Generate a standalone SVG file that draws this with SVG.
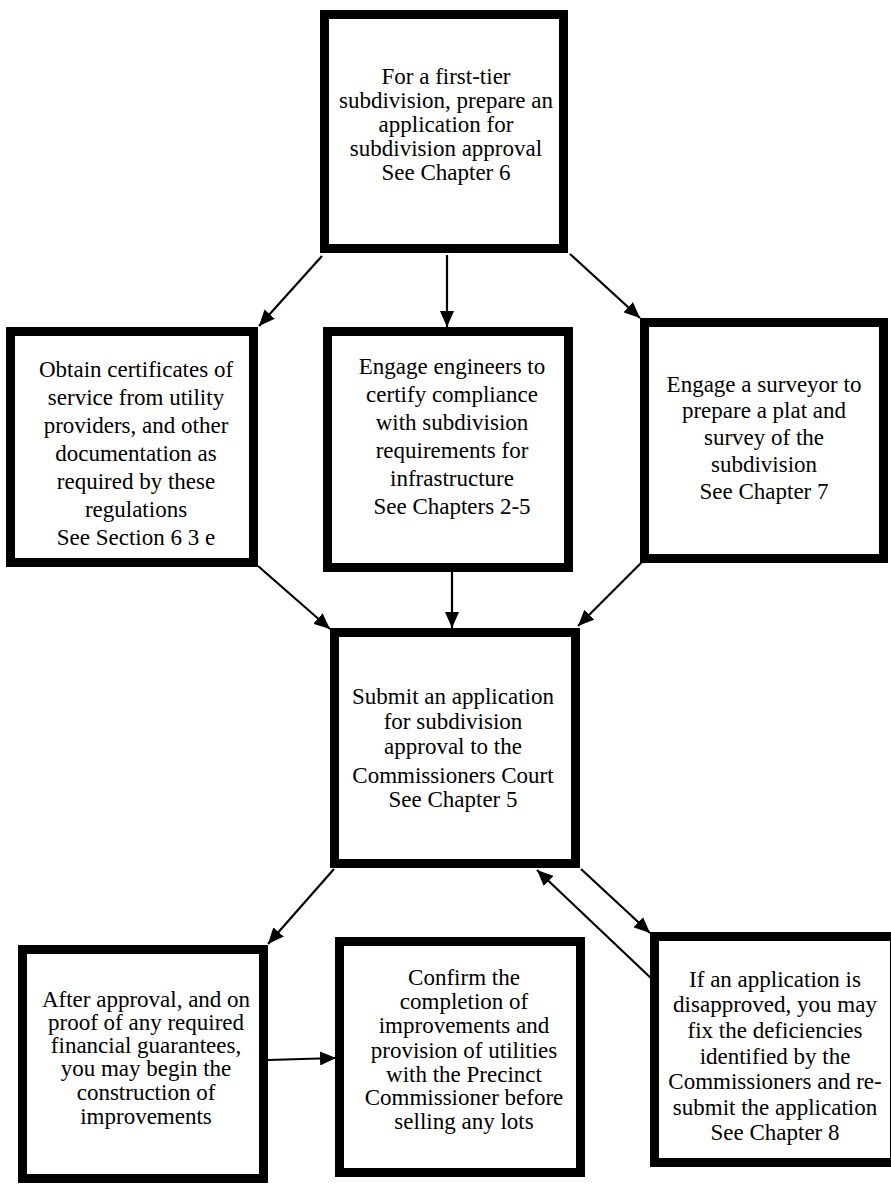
<svg xmlns="http://www.w3.org/2000/svg" width="891" height="1188" viewBox="0 0 891 1188">
<style>
.box{fill:#fff;stroke:#000;stroke-width:9}
.t{font-family:"Liberation Serif","Times New Roman",serif;font-size:23px;fill:#000;text-anchor:middle}
.c{stroke:#000;stroke-width:2.2;fill:none;marker-end:url(#ah)}
</style>
<defs>
<marker id="ah" markerUnits="userSpaceOnUse" markerWidth="18" markerHeight="14" refX="16" refY="7" orient="auto">
<path d="M0,0 L16,7 L0,14 z" fill="#000"/>
</marker>
</defs>
<rect width="891" height="1188" fill="#fff"/>
<g id="connectors">
<line class="c" x1="322" y1="256" x2="259" y2="326"/>
<line class="c" x1="447" y1="255" x2="447" y2="327"/>
<line class="c" x1="570" y1="254" x2="640" y2="318"/>
<line class="c" x1="258" y1="566" x2="330" y2="629"/>
<line class="c" x1="452" y1="572" x2="452" y2="628"/>
<line class="c" x1="647" y1="557" x2="578" y2="626"/>
<line class="c" x1="334" y1="869" x2="268" y2="944"/>
<line class="c" x1="581" y1="869" x2="650" y2="933"/>
<line class="c" x1="653" y1="980" x2="537" y2="870"/>
<line class="c" x1="268" y1="1060" x2="336" y2="1058"/>
</g>
<g id="n1">
<rect class="box" x="324.5" y="14.5" width="239" height="234"/>
<text class="t"><tspan x="446" y="84">For a first-tier</tspan><tspan x="446" y="108">subdivision, prepare an</tspan><tspan x="446" y="132">application for</tspan><tspan x="446" y="156">subdivision approval</tspan><tspan x="446" y="180">See Chapter 6</tspan></text>
</g>
<g id="n2">
<rect class="box" x="10.5" y="331.5" width="243" height="231"/>
<text class="t"><tspan x="136" y="377">Obtain certificates of</tspan><tspan x="136" y="405">service from utility</tspan><tspan x="136" y="433">providers, and other</tspan><tspan x="136" y="461">documentation as</tspan><tspan x="136" y="489">required by these</tspan><tspan x="136" y="517">regulations</tspan><tspan x="136" y="545">See Section 6 3 e</tspan></text>
</g>
<g id="n3">
<rect class="box" x="327.5" y="331.5" width="241" height="236"/>
<text class="t"><tspan x="452" y="374">Engage engineers to</tspan><tspan x="452" y="402">certify compliance</tspan><tspan x="452" y="430">with subdivision</tspan><tspan x="452" y="458">requirements for</tspan><tspan x="452" y="486">infrastructure</tspan><tspan x="452" y="514">See Chapters 2-5</tspan></text>
</g>
<g id="n4">
<rect class="box" x="644.5" y="322.5" width="239" height="236"/>
<text class="t"><tspan x="764" y="392">Engage a surveyor to</tspan><tspan x="764" y="418">prepare a plat and</tspan><tspan x="764" y="445">survey of the</tspan><tspan x="764" y="472">subdivision</tspan><tspan x="764" y="499">See Chapter 7</tspan></text>
</g>
<g id="n5">
<rect class="box" x="334.5" y="632.5" width="241" height="231"/>
<text class="t"><tspan x="453" y="704">Submit an application</tspan><tspan x="453" y="729">for subdivision</tspan><tspan x="453" y="754">approval to the</tspan><tspan x="453" y="783">Commissioners Court</tspan><tspan x="453" y="807">See Chapter 5</tspan></text>
</g>
<g id="n6">
<rect class="box" x="22.5" y="949.5" width="241" height="229"/>
<text class="t"><tspan x="146" y="1007">After approval, and on</tspan><tspan x="146" y="1030">proof of any required</tspan><tspan x="146" y="1053">financial guarantees,</tspan><tspan x="146" y="1076">you may begin the</tspan><tspan x="146" y="1100">construction of</tspan><tspan x="146" y="1124">improvements</tspan></text>
</g>
<g id="n7">
<rect class="box" x="339.5" y="941.5" width="241" height="231"/>
<text class="t"><tspan x="464" y="985">Confirm the</tspan><tspan x="464" y="1009">completion of</tspan><tspan x="464" y="1033">improvements and</tspan><tspan x="464" y="1058">provision of utilities</tspan><tspan x="464" y="1082">with the Precinct</tspan><tspan x="464" y="1105">Commissioner before</tspan><tspan x="464" y="1129">selling any lots</tspan></text>
</g>
<g id="n8">
<rect class="box" x="654.5" y="936.5" width="240" height="226"/>
<text class="t"><tspan x="775" y="987">If an application is</tspan><tspan x="775" y="1012">disapproved, you may</tspan><tspan x="775" y="1038">fix the deficiencies</tspan><tspan x="775" y="1064">identified by the</tspan><tspan x="775" y="1089">Commissioners and re-</tspan><tspan x="775" y="1115">submit the application</tspan><tspan x="775" y="1140">See Chapter 8</tspan></text>
</g>
</svg>
